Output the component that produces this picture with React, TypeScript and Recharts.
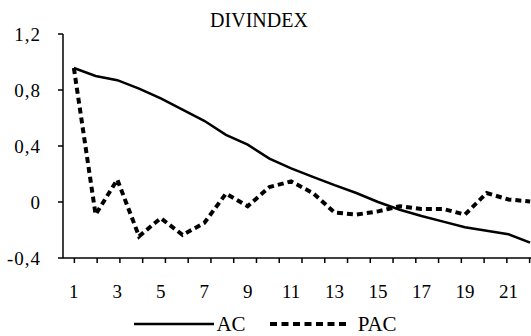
import { Legend, Line, LineChart, XAxis, YAxis } from "recharts";

const lags = [1, 2, 3, 4, 5, 6, 7, 8, 9, 10, 11, 12, 13, 14, 15, 16, 17, 18, 19, 20, 21, 22];
const acValues = [
  0.957, 0.9, 0.87, 0.81, 0.74, 0.66, 0.58, 0.48, 0.41, 0.31, 0.24, 0.18, 0.12, 0.064, 0.0,
  -0.055, -0.1, -0.14, -0.18, -0.205, -0.23, -0.29,
];
const pacValues = [
  0.957, -0.09, 0.16, -0.245, -0.115, -0.235, -0.15, 0.06, -0.03, 0.107, 0.147, 0.064, -0.075,
  -0.09, -0.067, -0.03, -0.05, -0.05, -0.09, 0.064, 0.018, 0.004,
];
const yTicks = [-0.4, 0, 0.4, 0.8, 1.2];
const boundaryTicks = [...lags.map((l) => l - 0.5), lags[lags.length - 1] + 0.5];
const labelTicks = lags.filter((l) => l % 2 === 1);

const data = lags.map((lag, i) => ({ lag, AC: acValues[i], PAC: pacValues[i] }));

const font = "'Liberation Serif', 'Times New Roman', Times, 'DejaVu Serif', serif";

const fmt = (v: number) => (v === 0 ? "0" : v.toFixed(1).replace(".", ","));

function LegendContent() {
  return (
    <div style={{ height: 24, display: "flex", justifyContent: "center", alignItems: "center", fontFamily: font, fontSize: 21, color: "#000" }}>
      <svg width={80} height={10}>
        <line x1={0} y1={5} x2={80} y2={5} stroke="#000" strokeWidth={2.5} />
      </svg>
      <span style={{ marginLeft: 2, marginRight: 24 }}>AC</span>
      <svg width={80} height={10}>
        <line x1={0} y1={5} x2={80} y2={5} stroke="#000" strokeWidth={4} strokeDasharray="7 4.5" />
      </svg>
      <span style={{ marginLeft: 8 }}>PAC</span>
    </div>
  );
}

export default function App() {
  return (
    <div style={{ position: "absolute", left: 0, top: 0, width: 531, height: 336, overflow: "hidden", background: "#fff" }}>
      <div
        style={{
          position: "absolute",
          left: 0,
          top: 9,
          width: 518,
          textAlign: "center",
          fontFamily: font,
          fontSize: 20,
          color: "#000",
        }}
      >
        DIVINDEX
      </div>
      <LineChart width={545} height={336} data={data} margin={{ top: 34, right: 4, left: 0, bottom: 0 }}>
        <YAxis
          width={63}
          domain={[-0.4, 1.2]}
          ticks={yTicks}
          tickFormatter={fmt}
          tickSize={5}
          tickMargin={17}
          axisLine={{ stroke: "#000", strokeWidth: 1.5 }}
          tickLine={{ stroke: "#000", strokeWidth: 1.5 }}
          tick={{ fill: "#000", fontSize: 19, fontFamily: font, letterSpacing: 1 }}
          allowDataOverflow
        />
        <XAxis
          xAxisId="bounds"
          type="number"
          domain={[0.5, 22.5]}
          ticks={boundaryTicks}
          height={6}
          tickSize={5}
          tickFormatter={() => " "}
          tick={{ fontSize: 1 }}
          interval={0}
          axisLine={{ stroke: "#000", strokeWidth: 1.5 }}
          tickLine={{ stroke: "#000", strokeWidth: 1.5 }}
          allowDecimals
          allowDataOverflow
        />
        <XAxis
          xAxisId="labels"
          type="number"
          dataKey="lag"
          domain={[0.5, 22.5]}
          ticks={labelTicks}
          height={48}
          tickSize={0}
          tickMargin={21}
          axisLine={false}
          tickLine={false}
          tick={{ fill: "#000", fontSize: 19, fontFamily: font }}
          interval={0}
          allowDataOverflow
        />
        <Legend verticalAlign="bottom" content={() => <LegendContent />} wrapperStyle={{ left: 0, width: 531 }} />
        <Line
          xAxisId="labels"
          type="linear"
          dataKey="AC"
          stroke="#000"
          strokeWidth={2.5}
          dot={false}
          isAnimationActive={false}
        />
        <Line
          xAxisId="labels"
          type="linear"
          dataKey="PAC"
          stroke="#000"
          strokeWidth={4}
          strokeDasharray="6 4"
          dot={false}
          isAnimationActive={false}
        />
      </LineChart>
    </div>
  );
}
